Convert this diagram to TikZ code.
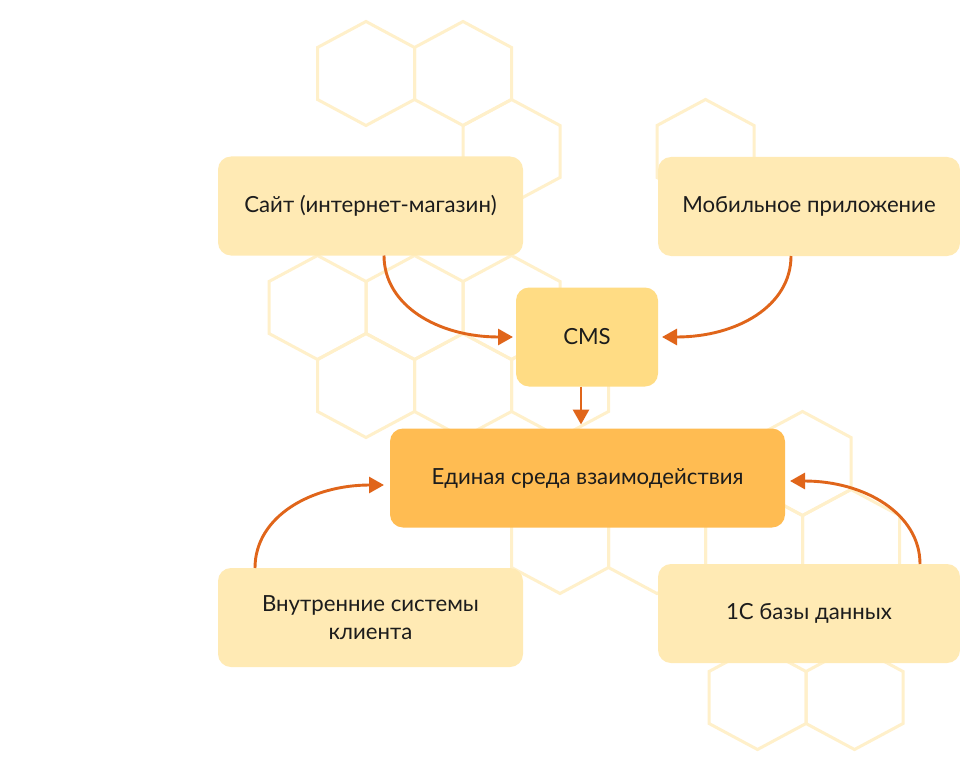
\documentclass[tikz,border=0pt]{standalone}
\usepackage{fontspec}
\setmainfont{Lato}
\usetikzlibrary{arrows.meta}
\definecolor{hexline}{HTML}{FFF0CA}
\definecolor{cardlight}{HTML}{FFEAB4}
\definecolor{cardcms}{HTML}{FFDC84}
\definecolor{cardhub}{HTML}{FFBC52}
\definecolor{flowline}{HTML}{E0651A}
\definecolor{inktext}{HTML}{1C1C1C}

\begin{document}
\begin{tikzpicture}[x=1pt,y=-1pt,every node/.style={font=\fontsize{22.2}{28}\selectfont,text=inktext},
    card/.style={rounded corners=13pt,minimum height=99pt,outer sep=0pt,align=center,inner sep=0pt},
    flow/.style={draw=flowline,line width=2.9pt,-{Triangle[length=15pt,width=16pt]}},
    cell/.style={draw=hexline,line width=3pt}]
                \fill[white] (0,0) rectangle (960,770);
                \useasboundingbox (0,0) rectangle (960,770);

                \foreach \cx/\cy in {366/73.5,463/73.5,511.5/151.5,705.5/151.5,
                    317.5/307.5,414.5/307.5,511.5/307.5,366/385.5,463/385.5,560/385.5,
                    802.5/463.5,560/541.5,657/541.5,754/541.5,851/541.5,757.5/697.5,854.5/697.5}
                    \draw[cell] (\cx,\cy-52) -- ++(48.5,26) -- ++(0,52) -- ++(-48.5,26)
                        -- ++(-48.5,-26) -- ++(0,-52) -- cycle;

                \node[card,fill=cardlight,minimum width=305pt] (site) at (370.5,206) {Сайт (интернет-магазин)};
                \node[card,fill=cardlight,minimum width=302pt] (mobile) at (809,206.5) {Мобильное приложение};
                \node[card,fill=cardcms,minimum width=142pt] (cms) at (587,337) {CMS};
                \node[card,fill=cardhub,minimum width=395pt] (hub) at (587.5,478) {Единая среда взаимодействия};
                \node[card,fill=cardlight,minimum width=305pt] (internal) at (370.5,617.5) {Внутренние системы\\клиента};
                \node[card,fill=cardlight,minimum width=302pt] (onec) at (809,613.5) {1С базы данных};

                \draw[flow] ([xshift=13.5pt]site.south) .. controls +(0,50) and +(-75,0) .. ([xshift=-3pt]cms.west);
                \draw[flow] ([xshift=-18pt]mobile.south) .. controls +(0,50) and +(75,0) .. ([xshift=4pt]cms.east);
                \draw[flow] ([xshift=-6pt]cms.south) -- ([xshift=-6pt,yshift=4pt]cms.south |- hub.north);
                \draw[flow] ([xshift=-115.5pt]internal.north) .. controls +(0,-52) and +(-72,0) .. ([xshift=-6pt,yshift=-7pt]hub.west);
                \draw[flow] ([xshift=111pt]onec.north) .. controls +(0,-50) and +(75,0) .. ([xshift=5pt,yshift=-3pt]hub.east);
            \end{tikzpicture}
\end{document}
